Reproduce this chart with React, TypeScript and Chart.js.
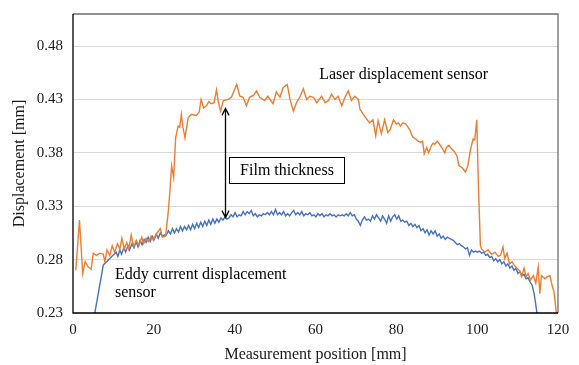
import React, { useEffect, useRef } from "react";
import { Chart, registerables } from "chart.js";

Chart.register(...registerables);

// ---- Data ----
const laserX = [
  0.7, 1.6, 2.4, 3.0, 3.8, 4.5, 5.0, 5.8, 6.6, 7.5, 7.9, 8.4, 9.1, 9.7, 10.3, 11.0, 11.6, 12.1, 12.7, 13.3,
  13.8, 14.4, 15.0, 15.7, 16.3, 17.0, 17.5, 18.1, 18.7, 19.3, 19.9, 20.6, 21.2, 21.6, 22.1, 22.9, 23.5, 24.0,
  24.4, 24.9, 25.4, 26.0, 26.4, 26.8, 27.2, 27.7, 28.5, 29.3, 30.5, 31.2, 31.7, 32.3, 33.0, 33.6, 34.2, 34.9,
  35.5, 35.9, 36.5, 37.2, 38.4, 39.2, 40.5, 41.3, 42.1, 42.9, 43.7, 44.7, 45.4, 46.2, 47.4, 48.2, 49.5, 50.3,
  51.2, 52.0, 53.0, 53.7, 54.5, 55.3, 56.1, 57.0, 57.8, 58.6, 59.5, 60.3, 61.5, 62.4, 63.2, 64.0, 64.8, 65.6,
  66.5, 67.3, 68.1, 68.9, 69.7, 70.6, 71.0, 71.8, 73.4, 74.2, 74.9, 75.5, 76.3, 77.1, 77.9, 78.5, 79.3, 80.0,
  80.5, 81.0, 81.6, 82.4, 83.4, 84.0, 84.8, 85.4, 86.0, 86.5, 86.9, 87.5, 88.0, 88.7, 89.1, 89.5, 90.1, 90.7,
  91.4, 92.0, 92.4, 93.0, 93.6, 94.4, 95.0, 95.5, 96.3, 97.1, 97.7, 98.3, 99.0, 99.4, 99.9, 100.3, 100.8,
  101.1, 101.9, 102.7, 103.6, 104.4, 105.2, 105.8, 106.4, 106.8, 107.4, 108.0, 108.6, 109.1, 109.8, 110.4,
  111.0, 111.6, 112.1, 112.6, 113.2, 113.9, 114.5, 115.1, 115.5, 115.9, 116.8, 117.3, 118.0, 118.6, 119.0, 119.6,
];
const laserY = [
  0.270, 0.317, 0.267, 0.278, 0.273, 0.271, 0.286, 0.284, 0.286, 0.285, 0.278, 0.289, 0.284, 0.293, 0.287, 0.295, 0.290, 0.300, 0.290, 0.296,
  0.290, 0.303, 0.292, 0.298, 0.293, 0.301, 0.295, 0.300, 0.297, 0.302, 0.298, 0.304, 0.307, 0.309, 0.301, 0.302, 0.322, 0.345,
  0.368, 0.357, 0.394, 0.405, 0.404, 0.416, 0.404, 0.394, 0.413, 0.416, 0.415, 0.418, 0.430, 0.422, 0.424, 0.428, 0.426, 0.427,
  0.439, 0.429, 0.419, 0.429, 0.430, 0.432, 0.444, 0.433, 0.432, 0.424, 0.432, 0.434, 0.438, 0.432, 0.429, 0.433, 0.426, 0.437,
  0.432, 0.441, 0.444, 0.430, 0.419, 0.427, 0.432, 0.440, 0.430, 0.433, 0.432, 0.427, 0.433, 0.427, 0.429, 0.435, 0.430, 0.433,
  0.424, 0.432, 0.438, 0.429, 0.433, 0.430, 0.421, 0.416, 0.408, 0.411, 0.396, 0.410, 0.398, 0.411, 0.399, 0.402, 0.411, 0.407,
  0.408, 0.405, 0.408, 0.407, 0.401, 0.395, 0.393, 0.391, 0.390, 0.391, 0.379, 0.385, 0.380, 0.387, 0.389, 0.388, 0.391, 0.388,
  0.384, 0.380, 0.385, 0.387, 0.384, 0.381, 0.377, 0.368, 0.366, 0.362, 0.368, 0.382, 0.393, 0.392, 0.411, 0.350, 0.293,
  0.290, 0.287, 0.289, 0.285, 0.287, 0.283, 0.284, 0.292, 0.281, 0.286, 0.276, 0.278, 0.275, 0.272, 0.270,
  0.264, 0.272, 0.264, 0.267, 0.261, 0.265, 0.258, 0.273, 0.248, 0.265, 0.262, 0.264, 0.265, 0.255, 0.250, 0.230,
];

const eddyX = [
  5.4, 7.5, 8.3, 9.1, 9.9, 10.7, 11.1, 11.6, 12.0, 12.6, 13.0, 13.6, 14.0, 14.6, 15.1, 15.6, 16.1, 16.6, 17.1, 17.6,
  18.1, 18.6, 19.1, 19.6, 20.1, 20.6, 21.1, 21.6, 22.1, 22.6, 23.1, 23.6, 24.1, 24.6, 25.1, 25.6, 26.1, 26.6, 27.1, 27.6,
  28.1, 28.6, 29.1, 29.6, 30.1, 30.6, 31.1, 31.6, 32.1, 32.6, 33.1, 33.6, 34.1, 34.6, 35.1, 35.6, 36.1, 36.6, 37.1, 37.6,
  38.1, 38.6, 39.1, 39.6, 40.1, 40.6, 41.1, 41.6, 42.1, 42.6, 43.1, 43.6, 44.1, 44.6, 45.1, 45.6, 46.1, 46.6, 47.1, 47.6,
  48.1, 48.6, 49.1, 49.6, 50.1, 50.6, 51.1, 51.6, 52.1, 52.6, 53.1, 53.6, 54.1, 54.6, 55.1, 55.6, 56.1, 56.6, 57.1, 57.6,
  58.1, 58.6, 59.1, 59.6, 60.1, 60.6, 61.1, 61.6, 62.1, 62.6, 63.1, 63.6, 64.1, 64.6, 65.1, 65.6, 66.1, 66.6, 67.1, 67.6,
  68.1, 68.6, 69.1, 69.6, 70.1, 70.6, 71.1, 71.6, 72.1, 72.6, 73.1, 73.6, 74.1, 74.6, 75.1, 75.6, 76.1, 76.6, 77.1, 77.6,
  78.1, 78.6, 79.1, 79.6, 80.1, 80.6, 81.1, 81.6, 82.1, 82.6, 83.1, 83.6, 84.1, 84.6, 85.1, 85.6, 86.1, 86.6, 87.1, 87.6,
  88.1, 88.6, 89.1, 89.6, 90.1, 90.6, 91.1, 91.6, 92.1, 92.6, 93.1, 93.6, 94.1, 94.6, 95.1, 95.6, 96.1, 96.6, 97.1, 97.6,
  98.1, 98.6, 99.1, 99.6, 100.1, 100.6, 101.1, 101.6, 102.1, 102.6, 103.1, 103.6, 104.1, 104.6, 105.1, 105.6, 106.1, 106.6, 107.1, 107.6,
  108.1, 108.6, 109.1, 109.6, 110.1, 110.6, 111.1, 111.6, 112.1, 112.6, 113.1, 113.6, 114.1, 114.8,
];
const eddyY = [
  0.230, 0.275, 0.278, 0.281, 0.284, 0.287, 0.283, 0.289, 0.285, 0.291, 0.287, 0.293, 0.289, 0.295, 0.291, 0.297, 0.292, 0.298, 0.294, 0.299,
  0.296, 0.301, 0.297, 0.302, 0.299, 0.304, 0.300, 0.305, 0.302, 0.303, 0.303, 0.307, 0.304, 0.309, 0.305, 0.309, 0.306, 0.311, 0.307, 0.311,
  0.308, 0.312, 0.308, 0.313, 0.309, 0.314, 0.310, 0.315, 0.311, 0.316, 0.312, 0.317, 0.313, 0.318, 0.314, 0.318, 0.315, 0.319, 0.317, 0.320,
  0.318, 0.319, 0.322, 0.320, 0.324, 0.320, 0.322, 0.321, 0.325, 0.322, 0.325, 0.323, 0.326, 0.321, 0.323, 0.320, 0.322, 0.321, 0.323, 0.322,
  0.324, 0.322, 0.325, 0.322, 0.327, 0.322, 0.324, 0.322, 0.325, 0.321, 0.323, 0.321, 0.324, 0.326, 0.322, 0.324, 0.322, 0.325, 0.321, 0.323,
  0.322, 0.324, 0.321, 0.322, 0.320, 0.323, 0.321, 0.323, 0.320, 0.322, 0.321, 0.323, 0.321, 0.322, 0.320, 0.322, 0.321, 0.322, 0.321, 0.323,
  0.321, 0.324, 0.321, 0.322, 0.318, 0.316, 0.312, 0.317, 0.320, 0.317, 0.318, 0.316, 0.321, 0.318, 0.322, 0.319, 0.316, 0.321, 0.318, 0.314,
  0.321, 0.316, 0.320, 0.322, 0.318, 0.321, 0.316, 0.317, 0.315, 0.316, 0.312, 0.314, 0.311, 0.313, 0.310, 0.312, 0.307, 0.309, 0.305, 0.308,
  0.303, 0.307, 0.304, 0.307, 0.302, 0.304, 0.300, 0.302, 0.299, 0.301, 0.300, 0.299, 0.298, 0.296, 0.294, 0.295, 0.293, 0.292, 0.290, 0.291,
  0.284, 0.289, 0.287, 0.288, 0.287, 0.288, 0.286, 0.287, 0.284, 0.285, 0.282, 0.283, 0.279, 0.281, 0.278, 0.280, 0.276, 0.278, 0.274, 0.276,
  0.272, 0.274, 0.270, 0.272, 0.267, 0.269, 0.265, 0.266, 0.262, 0.263, 0.259, 0.256, 0.248, 0.230,
];

const yTickValues = [0.23, 0.28, 0.33, 0.38, 0.43, 0.48];
const xTickValues = [0, 20, 40, 60, 80, 100, 120];

const laserLabel = "Laser displacement sensor";
const eddyLabelLines = ["Eddy current displacement", "sensor"];
const filmLabel = "Film thickness";

// annotation anchors (data coordinates)
const laserLabelPos = { x: 60.9, y: 0.4527 };
const eddyLabelPos = { x: 10.4, y: 0.2658, y2: 0.2487 };
const filmBox = { x1: 38.6, x2: 67.0, y1: 0.352, y2: 0.3764 };
const arrowPos = { x: 37.6, yTop: 0.4216, yBottom: 0.3193 };

const FONT = "'Liberation Serif', 'Times New Roman', serif";

const annotationPlugin = {
  id: "annotations",
  afterDraw(chart: any) {
    const ctx = chart.ctx;
    const xs = chart.scales.x;
    const ys = chart.scales.y;
    const ca = chart.chartArea;
    ctx.save();
    ctx.lineWidth = 1.3;
    ctx.strokeStyle = "#6e6e6e";
    ctx.beginPath();
    ctx.moveTo(ca.left, ca.top);
    ctx.lineTo(ca.right, ca.top);
    ctx.lineTo(ca.right, ca.bottom);
    ctx.stroke();
    ctx.strokeStyle = "#000";
    ctx.beginPath();
    ctx.moveTo(ca.left, ca.top);
    ctx.lineTo(ca.left, ca.bottom);
    ctx.lineTo(ca.right, ca.bottom);
    ctx.stroke();

    ctx.fillStyle = "#000";
    ctx.font = `16px ${FONT}`;
    ctx.textBaseline = "middle";
    ctx.textAlign = "left";
    ctx.fillText(laserLabel, xs.getPixelForValue(laserLabelPos.x), ys.getPixelForValue(laserLabelPos.y));
    ctx.fillText(eddyLabelLines[0], xs.getPixelForValue(eddyLabelPos.x), ys.getPixelForValue(eddyLabelPos.y));
    ctx.fillText(eddyLabelLines[1], xs.getPixelForValue(eddyLabelPos.x), ys.getPixelForValue(eddyLabelPos.y2));

    const bx1 = Math.round(xs.getPixelForValue(filmBox.x1)) + 0.5;
    const bx2 = Math.round(xs.getPixelForValue(filmBox.x2)) + 0.5;
    const by1 = Math.round(ys.getPixelForValue(filmBox.y2)) + 0.5;
    const by2 = Math.round(ys.getPixelForValue(filmBox.y1)) + 0.5;
    ctx.fillStyle = "#fff";
    ctx.fillRect(bx1, by1, bx2 - bx1, by2 - by1);
    ctx.strokeStyle = "#000";
    ctx.lineWidth = 1;
    ctx.strokeRect(bx1, by1, bx2 - bx1, by2 - by1);
    ctx.fillStyle = "#000";
    ctx.textAlign = "center";
    ctx.fillText(filmLabel, (bx1 + bx2) / 2, (by1 + by2) / 2 + 0.5);

    const ax = Math.round(xs.getPixelForValue(arrowPos.x)) + 0.5;
    const at = ys.getPixelForValue(arrowPos.yTop);
    const ab = ys.getPixelForValue(arrowPos.yBottom);
    ctx.lineWidth = 1.3;
    ctx.beginPath();
    ctx.moveTo(ax, at);
    ctx.lineTo(ax, ab);
    ctx.moveTo(ax - 3.5, at + 7);
    ctx.lineTo(ax, at);
    ctx.lineTo(ax + 3.5, at + 7);
    ctx.moveTo(ax - 3.5, ab - 7);
    ctx.lineTo(ax, ab);
    ctx.lineTo(ax + 3.5, ab - 7);
    ctx.stroke();
    ctx.restore();
  },
};

export default function App() {
  const canvasRef = useRef<HTMLCanvasElement | null>(null);

  useEffect(() => {
    document.body.style.margin = "0";
    const canvas = canvasRef.current;
    if (!canvas) return;
    const chart = new Chart(canvas, {
      type: "line",
      data: {
        datasets: [
          {
            label: "Laser displacement sensor",
            data: laserX.map((x, i) => ({ x, y: laserY[i] })),
            borderColor: "#ED7D31",
            borderWidth: 1.4,
            pointRadius: 0,
            tension: 0,
          },
          {
            label: "Eddy current displacement sensor",
            data: eddyX.map((x, i) => ({ x, y: eddyY[i] })),
            borderColor: "#4472C4",
            borderWidth: 1.4,
            pointRadius: 0,
            tension: 0,
          },
        ],
      },
      options: {
        responsive: false,
        animation: false,
        devicePixelRatio: 1,
        layout: { padding: { top: 14, right: 21, bottom: 0, left: 0 } },
        plugins: { legend: { display: false }, tooltip: { enabled: false } },
        scales: {
          x: {
            type: "linear",
            min: 0,
            max: 120,
            afterBuildTicks: (s: any) => {
              s.ticks = xTickValues.map((v) => ({ value: v }));
            },
            afterFit: (s: any) => {
              s.height = 52;
              s.paddingLeft = 0;
              s.paddingRight = 0;
            },
            grid: { display: false, drawTicks: false },
            border: { display: false },
            ticks: {
              padding: 8,
              color: "#1a1a1a",
              font: { family: FONT, size: 15 },
              maxRotation: 0,
            },
            title: {
              display: true,
              text: "Measurement position [mm]",
              color: "#1a1a1a",
              font: { family: FONT, size: 16 },
              padding: { top: 2, bottom: 1 },
            },
          },
          y: {
            type: "linear",
            min: 0.23,
            max: 0.51,
            afterBuildTicks: (s: any) => {
              s.ticks = yTickValues.map((v) => ({ value: v }));
            },
            afterFit: (s: any) => {
              s.width = 73;
              s.paddingTop = 0;
              s.paddingBottom = 0;
            },
            grid: { color: "#D9D9D9", lineWidth: 1, drawTicks: false },
            border: { display: false },
            ticks: {
              padding: 10,
              color: "#1a1a1a",
              font: { family: FONT, size: 15 },
              callback: (v: any) => Number(v).toFixed(2),
            },
            title: {
              display: true,
              text: "Displacement [mm]",
              color: "#1a1a1a",
              font: { family: FONT, size: 16 },
              padding: { top: 10, bottom: 0 },
            },
          },
        },
      },
      plugins: [annotationPlugin],
    });
    return () => chart.destroy();
  }, []);

  return (
    <div style={{ width: 579, height: 365 }}>
      <canvas ref={canvasRef} width={579} height={365} />
    </div>
  );
}
